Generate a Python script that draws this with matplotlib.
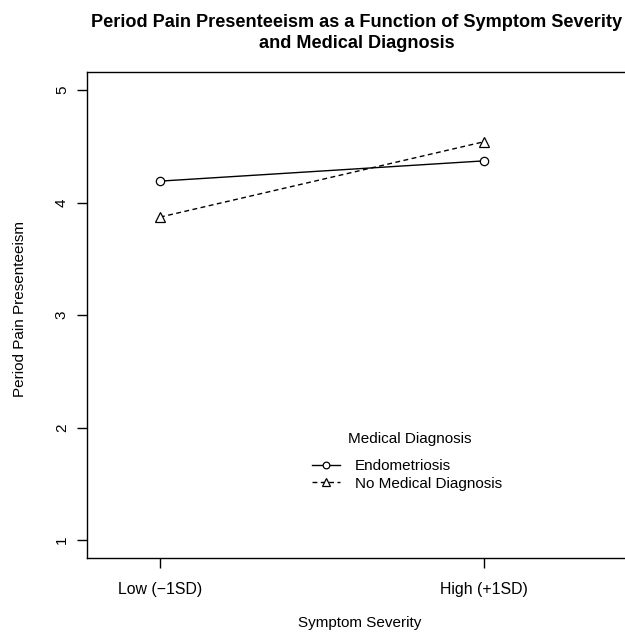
import matplotlib.pyplot as plt

plt.rcParams['font.family'] = ['Liberation Sans', 'DejaVu Sans']

# data
severity = ['Low (\u22121SD)', 'High (+1SD)']
endometriosis = [4.19, 4.37]
no_diagnosis = [3.87, 4.54]
y_ticks = [1, 2, 3, 4, 5]

xpos = [1, 2]

fig = plt.figure(figsize=(6.25, 6.33), dpi=100)
# right edge of the plot box runs slightly past the image edge (as in the reference)
ax = fig.add_axes([87/625, (633-558)/633, (633-87)/625, (558-72)/633])

ax.plot(xpos, endometriosis, color='black', lw=1, linestyle='-',
        marker='o', markersize=6, markerfacecolor='white', markeredgewidth=0.9,
        label='Endometriosis')
ax.plot(xpos, no_diagnosis, color='black', lw=1, linestyle=(0, (3.5, 2.5)),
        marker='^', markersize=7, markerfacecolor='white', markeredgewidth=0.9,
        label='No Medical Diagnosis')

ax.set_xlim(1 - 73/324, 2 + 149/324)
ax.set_ylim(0.84, 5.16)
ax.set_xticks(xpos)
ax.set_xticklabels(severity, fontsize=11.4)
ax.set_yticks(y_ticks)
ax.set_yticklabels([str(v) for v in y_ticks], fontsize=11, rotation=90, va='center')
ax.tick_params(axis='both', length=7, width=1, pad=6)
ax.tick_params(axis='x', pad=10)
for s in ax.spines.values():
    s.set_linewidth(1)

fig.text(360/625, 1 - 623/633, 'Symptom Severity', ha='center', va='center', fontsize=11)
fig.text(20/625, 1 - 309/633, 'Period Pain Presenteeism', ha='center', va='center',
         rotation=90, fontsize=11)
fig.text(357/625, 1 - 33/633,
         'Period Pain Presenteeism as a Function of Symptom Severity\nand Medical Diagnosis',
         ha='center', va='center', fontsize=13.1, fontweight='bold', linespacing=1.3)

fig.text(410/625, 1 - 439/633, 'Medical Diagnosis', ha='center', va='center', fontsize=11)
leg = ax.legend(loc='upper left', bbox_to_anchor=(312/625, 1 - 459/633),
                bbox_transform=fig.transFigure, frameon=False, fontsize=11,
                handlelength=1.8, handletextpad=1.0, labelspacing=0.25,
                borderpad=0.0, borderaxespad=0.0, markerscale=0.8)

fig.savefig('out.png', dpi=100)
